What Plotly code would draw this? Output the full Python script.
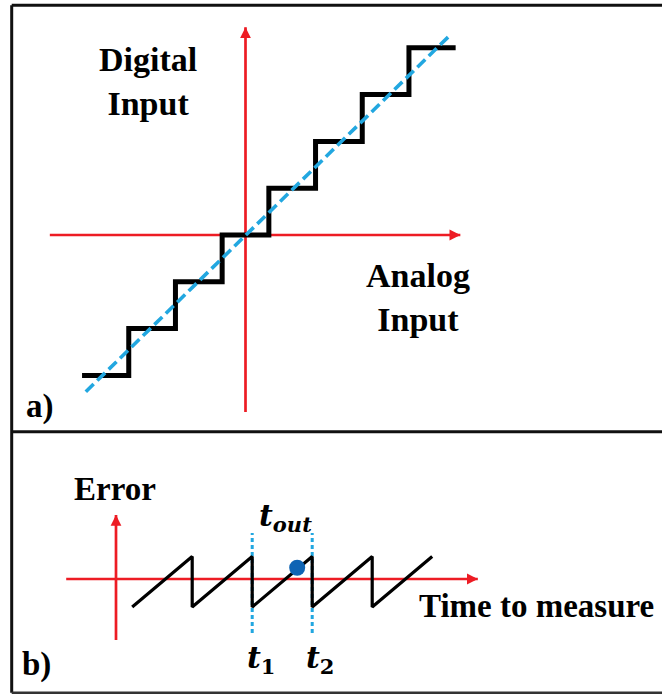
import plotly.graph_objects as go

W, H = 662, 695

# ---------- (a) quantiser transfer curve ----------
step_edges = [-3.5, -2.5, -1.5, -0.5, 0.5, 1.5, 2.5, 3.5, 4.5]
code_levels = [-3, -2, -1, 0, 1, 2, 3, 4]
ideal_x = [-3.42, 4.38]
ideal_y = [-3.35, 4.27]
axis_a_x = [-4.19, 4.6]      # extent of the analog-input axis
axis_a_y = [-3.78, 4.44]     # extent of the digital-input axis

# ---------- (b) quantisation error over time ----------
saw_t = [0.27, 1.27, 1.27, 2.27, 2.27, 3.27, 3.27, 4.27, 4.27, 5.27]
saw_err = [-1.12, 0.9, -1.12, 0.9, -1.12, 0.9, -1.12, 0.9, -1.12, 0.9]
t1, t2 = 2.27, 3.27
marker_lim = [-2.16, 1.84]
t_out, err_out = 3.02, 0.45
axis_b_x = [-0.83, 6.03]
axis_b_y = [-2.44, 2.56]

RED = "#ed1c24"
CYAN = "#22a7e0"
DOT = "#0f64b4"

fig = go.Figure()

# panel (a) – red axes
fig.add_trace(go.Scatter(x=axis_a_x, y=[0, 0], mode="lines",
                         line=dict(color=RED, width=2.7), xaxis="x", yaxis="y"))
fig.add_trace(go.Scatter(x=[0, 0], y=axis_a_y, mode="lines",
                         line=dict(color=RED, width=2.7), xaxis="x", yaxis="y"))
# staircase
fig.add_trace(go.Scatter(x=step_edges, y=code_levels + [code_levels[-1]], mode="lines",
                         line=dict(color="black", width=5, shape="hv"),
                         xaxis="x", yaxis="y"))
# ideal straight line
fig.add_trace(go.Scatter(x=ideal_x, y=ideal_y, mode="lines",
                         line=dict(color=CYAN, width=3.6, dash="11px,5px"),
                         xaxis="x", yaxis="y"))

# panel (b) – red axes
fig.add_trace(go.Scatter(x=axis_b_x, y=[0, 0], mode="lines",
                         line=dict(color=RED, width=2.7), xaxis="x2", yaxis="y2"))
fig.add_trace(go.Scatter(x=[0, 0], y=axis_b_y, mode="lines",
                         line=dict(color=RED, width=2.7), xaxis="x2", yaxis="y2"))
# sampling instants
for tv in (t1, t2):
    fig.add_trace(go.Scatter(x=[tv, tv], y=marker_lim, mode="lines",
                             line=dict(color=CYAN, width=3, dash="4px,3px"),
                             xaxis="x2", yaxis="y2"))
# sawtooth error
fig.add_trace(go.Scatter(x=saw_t, y=saw_err, mode="lines",
                         line=dict(color="black", width=3.2),
                         xaxis="x2", yaxis="y2"))
# output sample
fig.add_trace(go.Scatter(x=[t_out], y=[err_out], mode="markers",
                         marker=dict(color=DOT, size=16),
                         xaxis="x2", yaxis="y2"))


def head(x, y, ax, ay, xr, yr):
    return dict(x=x, y=y, xref=xr, yref=yr, ax=ax, ay=ay, text="",
                showarrow=True, arrowhead=2, arrowsize=0.8, arrowwidth=2.7,
                arrowcolor=RED, standoff=0)


def px(xp, yp):
    return xp / W, 1 - yp / H


def label(text, xp, yp, size=33, xanchor="center", family="Liberation Serif"):
    x, y = px(xp, yp)
    return dict(x=x, y=y, xref="paper", yref="paper", text=text, showarrow=False,
                xanchor=xanchor, yanchor="middle", align="center",
                font=dict(family=family, size=size, color="black"))


ann = [
    head(axis_a_x[1], 0, -12, 0, "x", "y"),
    head(0, axis_a_y[1], 0, 12, "x", "y"),
    head(axis_b_x[1], 0, -12, 0, "x2", "y2"),
    head(0, axis_b_y[1], 0, 12, "x2", "y2"),
    label("<b>Digital<br>Input</b>", 148, 82, size=34),
    label("<b>Analog<br>Input</b>", 418, 297, size=34),
    label("<b>a)</b>", 24, 406),
    label("<b>Error</b>", 114.5, 489),
    label("<b>Time to measure</b>", 536, 606),
    label("<b>b)</b>", 20, 664, xanchor="left"),
    label("<b><i>t<sub>out</sub></i></b>", 285, 517, size=30, family="DejaVu Serif"),
    label("<b><i>t</i><sub>1</sub></b>", 261, 659, size=30, family="DejaVu Serif"),
    label("<b><i>t</i><sub>2</sub></b>", 320, 659, size=30, family="DejaVu Serif"),
]
ann[6]["xanchor"] = "left"

# panel frame
fx0, ftop, fdiv, fbot = 11.7, 5.3, 431.7, 692.8
shapes = [
    dict(type="line", xref="paper", yref="paper", x0=fx0 / W, x1=fx0 / W,
         y0=1 - ftop / H, y1=1 - fbot / H, line=dict(color="#111", width=3)),
    dict(type="line", xref="paper", yref="paper", x0=fx0 / W, x1=1,
         y0=1 - ftop / H, y1=1 - ftop / H, line=dict(color="#111", width=3)),
    dict(type="line", xref="paper", yref="paper", x0=fx0 / W, x1=1,
         y0=1 - fdiv / H, y1=1 - fdiv / H, line=dict(color="#111", width=3)),
    dict(type="line", xref="paper", yref="paper", x0=fx0 / W, x1=1,
         y0=1 - fbot / H, y1=1 - fbot / H, line=dict(color="#333", width=2.5)),
]

# axis scaling: (a) origin at (245.5, 235) px, 46.7 px per code;
# (b) origin at (116, 579) px, 60 px per period, 25 px per error unit
ua, ub_x, ub_y = 46.7, 60.0, 25.0
xa_rng = [-245.5 / ua, (W - 245.5) / ua]
ya_rng = [(235 - H) / 46.8, 235 / 46.8]
xb_rng = [-116 / ub_x, (W - 116) / ub_x]
yb_rng = [(579 - H) / ub_y, 579 / ub_y]

hidden = dict(visible=False, showgrid=False, zeroline=False, fixedrange=True)
fig.update_layout(
    width=W, height=H, margin=dict(l=0, r=0, t=0, b=0),
    paper_bgcolor="white", plot_bgcolor="white", showlegend=False,
    xaxis=dict(domain=[0, 1], range=xa_rng, anchor="y", **hidden),
    yaxis=dict(domain=[0, 1], range=ya_rng, anchor="x", **hidden),
    xaxis2=dict(domain=[0, 1], range=xb_rng, anchor="y2", overlaying="x", **hidden),
    yaxis2=dict(domain=[0, 1], range=yb_rng, anchor="x2", overlaying="y", **hidden),
    annotations=ann, shapes=shapes,
)

fig.write_html("out.html")
